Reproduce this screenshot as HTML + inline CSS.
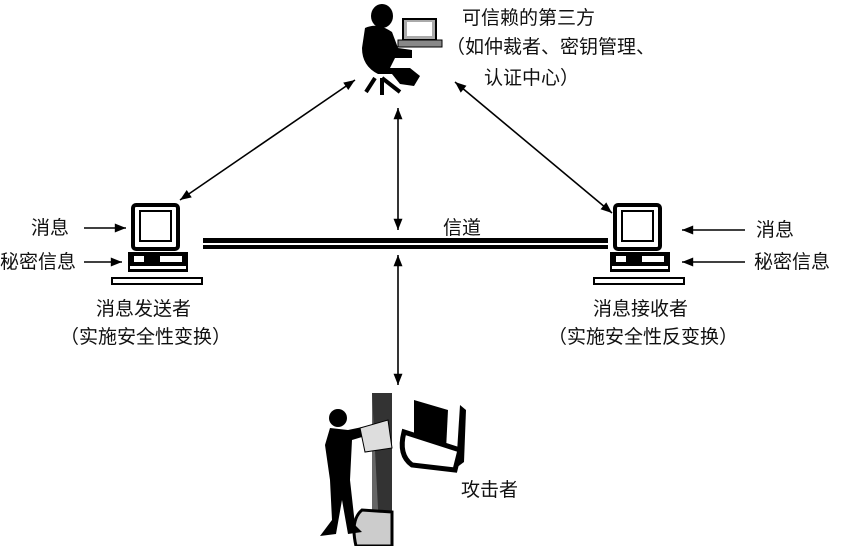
<!DOCTYPE html>
<html><head><meta charset="utf-8"><style>
body{margin:0;width:852px;height:546px;background:#fff;overflow:hidden;position:relative;font-family:"Liberation Sans","Noto Sans CJK SC",sans-serif;color:#111}
.t{position:absolute;font-size:19px;white-space:nowrap;line-height:1}
svg{position:absolute;left:0;top:0}
</style></head><body>
<svg width="852" height="546" viewBox="0 0 852 546">
<defs><marker id="a" viewBox="0 0 10 10" refX="10" refY="5" markerWidth="9" markerHeight="7" orient="auto-start-reverse"><path d="M0,1 L10,5 L0,9 z" fill="#000"/></marker></defs>
<g stroke="#000" stroke-width="1.6" fill="none">
<line x1="180" y1="200" x2="355" y2="80" marker-start="url(#a)" marker-end="url(#a)"/>
<line x1="455" y1="82" x2="612" y2="213" marker-start="url(#a)" marker-end="url(#a)"/>
<line x1="398" y1="108" x2="398" y2="230" marker-start="url(#a)" marker-end="url(#a)"/>
<line x1="398" y1="255" x2="398" y2="385" marker-start="url(#a)" marker-end="url(#a)"/>
<line x1="84" y1="228" x2="126" y2="228" marker-end="url(#a)"/>
<line x1="84" y1="262" x2="122" y2="262" marker-end="url(#a)"/>
<line x1="745" y1="230" x2="682" y2="230" marker-end="url(#a)"/>
<line x1="745" y1="262" x2="682" y2="262" marker-end="url(#a)"/>
</g>
<rect x="203" y="238" width="405" height="5" fill="#000"/>
<rect x="203" y="245" width="405" height="4" fill="#000"/>
<!-- trusted third party figure -->
<g fill="#000">
<ellipse cx="382" cy="16" rx="11" ry="12"/>
<path d="M365,28 Q378,22 392,32 L398,48 L412,50 L412,58 L395,58 L390,68 L410,68 L420,76 L414,86 L400,84 L392,74 L378,74 Q362,66 362,48 Z"/>
<path d="M375,78 L366,92 M382,78 L400,92 M382,78 L382,95" stroke="#000" stroke-width="4"/>
</g>
<rect x="403" y="19" width="33" height="21" fill="#aaa" stroke="#000" stroke-width="2"/>
<rect x="407" y="22" width="25" height="14" fill="#fff"/>
<rect x="398" y="40" width="44" height="7" fill="#888" stroke="#000"/>
<!-- left computer -->
<g>
<rect x="133" y="205" width="45" height="44" fill="#fff" stroke="#000" stroke-width="4" rx="3"/>
<rect x="140" y="211" width="31" height="30" fill="#fff" stroke="#000" stroke-width="2"/>
<rect x="128" y="252" width="60" height="20" fill="#000"/>
<rect x="134" y="256" width="10" height="6" fill="#fff"/><rect x="160" y="256" width="22" height="6" fill="#fff"/>
<rect x="130" y="266" width="56" height="3" fill="#fff"/>
<rect x="112" y="278" width="90" height="6" fill="#fff" stroke="#000" stroke-width="2"/>
</g>
<!-- right computer -->
<g>
<rect x="615" y="205" width="45" height="44" fill="#fff" stroke="#000" stroke-width="4" rx="3"/>
<rect x="622" y="211" width="31" height="30" fill="#fff" stroke="#000" stroke-width="2"/>
<rect x="610" y="252" width="60" height="20" fill="#000"/>
<rect x="616" y="256" width="10" height="6" fill="#fff"/><rect x="642" y="256" width="22" height="6" fill="#fff"/>
<rect x="612" y="266" width="56" height="3" fill="#fff"/>
<rect x="594" y="278" width="90" height="6" fill="#fff" stroke="#000" stroke-width="2"/>
</g>
<!-- attacker -->
<g>
<rect x="372" y="393" width="20" height="153" fill="#666"/>
<path d="M372,393 L392,393 L392,546 L380,546 Z" fill="#333"/>
<path d="M362,510 Q350,520 356,546 L392,546 L392,512 Z" fill="#ccc" stroke="#000" stroke-width="3"/>
<circle cx="338" cy="418" r="9" fill="#000"/>
<path d="M330,428 L348,430 L372,425 L372,434 L352,440 L350,480 L355,525 L362,532 L348,534 L342,500 L336,534 L320,536 L332,520 L330,480 L325,445 Z" fill="#000"/>
<path d="M360,428 L388,420 L392,448 L365,452 Z" fill="#ddd" stroke="#000"/>
<path d="M414,400 L448,410 L446,450 L414,442 Z" fill="#000"/>
<path d="M404,432 Q398,455 412,465 L455,470 L460,450 Z" fill="#fff" stroke="#000" stroke-width="5"/>
<path d="M460,405 L466,410 L464,462 L456,468 Z" fill="#000"/>
</g>
</svg>
<div class="t" style="left:462px;top:9px">可信赖的第三方</div>
<div class="t" style="left:446px;top:38px">（如仲裁者、密钥管理、</div>
<div class="t" style="left:484px;top:69px">认证中心）</div>
<div class="t" style="left:443px;top:219px">信道</div>
<div class="t" style="left:31px;top:219px">消息</div>
<div class="t" style="left:0px;top:253px">秘密信息</div>
<div class="t" style="left:756px;top:221px">消息</div>
<div class="t" style="left:754px;top:253px">秘密信息</div>
<div class="t" style="left:96px;top:300px">消息发送者</div>
<div class="t" style="left:60px;top:328px">（实施安全性变换）</div>
<div class="t" style="left:593px;top:300px">消息接收者</div>
<div class="t" style="left:548px;top:328px">（实施安全性反变换）</div>
<div class="t" style="left:461px;top:481px">攻击者</div>
</body></html>
